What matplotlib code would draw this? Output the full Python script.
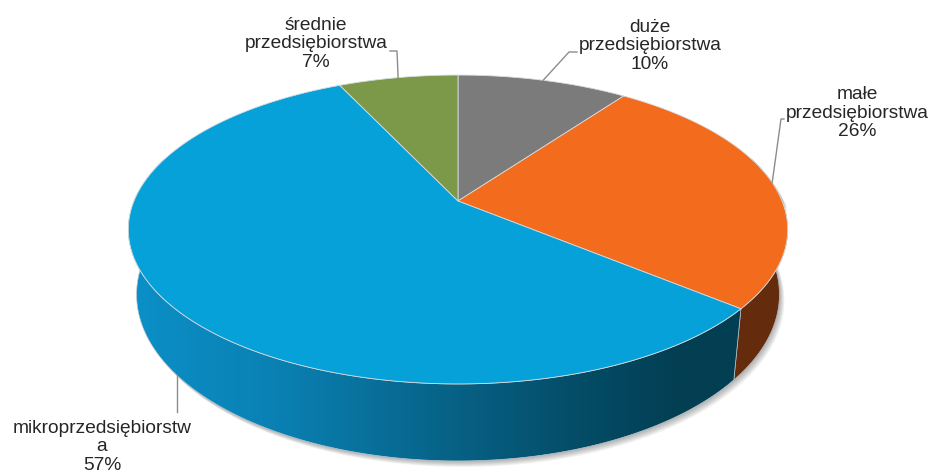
import numpy as np
import matplotlib
matplotlib.use("Agg")
import matplotlib.pyplot as plt
from matplotlib.patches import Polygon
from matplotlib.colors import LinearSegmentedColormap

plt.rcParams['font.family'] = ['Liberation Sans', 'DejaVu Sans']

# data (clockwise from 12 o'clock)
categories = ["duże\nprzedsiębiorstwa", "małe\nprzedsiębiorstwa",
              "mikroprzedsiębiorstw\na", "średnie\nprzedsiębiorstwa"]
shares = [10, 26, 57, 7]
top_colors = ["#7b7b7b", "#f36b1c", "#06a1d9", "#7c9849"]
side_colors = ["#4a4a4a", "#642b0c", None, "#4b5c2c"]

W, H = 932, 477
fig = plt.figure(figsize=(W / 100, H / 100), dpi=100)
ax = fig.add_axes([0, 0, 1, 1])

# perspective pie geometry (pixels)
cx, cy = 458, 202
A, B, k = 324, 149.2, 0.1845
depth = 62.8
shrink = 0.975


def top(phi):
    u, v = np.sin(phi), -np.cos(phi)
    w = 1 - k * v
    return cx + A * u / w, cy + B * v / w


def bottom(phi):
    u, v = np.sin(phi), -np.cos(phi)
    w = 1 - k * v
    return cx + shrink * A * u / w, cy + (B * v + depth) / w


fracs = np.array(shares, dtype=float) / sum(shares)
edges = np.concatenate([[0], np.cumsum(fracs)]) * 2 * np.pi

# soft shadow under the pie
t_back = np.linspace(-np.pi / 2, np.pi / 2, 200)
t_front = np.linspace(np.pi / 2, 3 * np.pi / 2, 200)
sx = np.concatenate([top(t_back)[0], bottom(t_front)[0]])
sy = np.concatenate([top(t_back)[1], bottom(t_front)[1]])
for i in range(6):
    d = 1 + i * 0.8
    ax.add_patch(Polygon(np.column_stack([sx + d, sy + d * 1.2]), closed=True,
                         facecolor="#000000", edgecolor="none", alpha=0.05, zorder=1))

# sides
lo, hi = np.pi / 2 - 0.3, 3 * np.pi / 2 + 0.3
for i, (a0, a1) in enumerate(zip(edges[:-1], edges[1:])):
    b0, b1 = max(a0, lo), min(a1, hi)
    if b1 <= b0:
        continue
    t = np.linspace(b0, b1, 150)
    tx, ty = top(t)
    bx, by = bottom(t[::-1])
    pts = np.column_stack([np.concatenate([tx, bx]), np.concatenate([ty, by])])
    if side_colors[i] is None:
        poly = Polygon(pts, closed=True, facecolor="none", edgecolor="#b8c8d0",
                       lw=0.5, zorder=3)
        ax.add_patch(poly)
        cmap = LinearSegmentedColormap.from_list(
            "side", [(0.0, "#0b90c8"), (0.25, "#0a80b2"), (0.5, "#07658a"),
                     (0.75, "#044b65"), (0.9, "#033f53"), (1.0, "#033f53")])
        grad = np.linspace(0, 1, 512).reshape(1, -1)
        im = ax.imshow(grad, cmap=cmap, extent=(pts[:, 0].min(), pts[:, 0].max(),
                                                 pts[:, 1].max(), pts[:, 1].min()),
                       aspect="auto", zorder=2, interpolation="bilinear")
        im.set_clip_path(poly)
    else:
        ax.add_patch(Polygon(pts, closed=True, facecolor=side_colors[i],
                             edgecolor="#b8b8b8", lw=0.5, zorder=2))

# top face
for i, (a0, a1) in enumerate(zip(edges[:-1], edges[1:])):
    t = np.linspace(a0, a1, 200)
    tx, ty = top(t)
    pts = np.column_stack([np.concatenate([[cx], tx]), np.concatenate([[cy], ty])])
    ax.add_patch(Polygon(pts, closed=True, facecolor=top_colors[i],
                         edgecolor="#d8dde0", lw=0.6, zorder=4))

# labels with leader lines
mids = (edges[:-1] + edges[1:]) / 2
label_pos = [(650, 46), (857, 113), (102, 447), (316, 44)]
elbows = [[(577, 53), (569, 53)], [(784, 120), (781, 120)], [None], [(390, 52), (397, 52)]]
for i, cat in enumerate(categories):
    ax.text(label_pos[i][0], label_pos[i][1], f"{cat}\n{shares[i]}%",
            ha="center", va="center", fontsize=13.8, color="#262626",
            linespacing=1.12, zorder=6)
    if i == 2:
        ex, ey = bottom(mids[i])
        ax.plot([ex, ex], [413, ey], color="#8c8c8c", lw=1, zorder=6)
    else:
        ex, ey = top(mids[i])
        xs = [p[0] for p in elbows[i]] + [ex]
        ys = [p[1] for p in elbows[i]] + [ey]
        ax.plot(xs, ys, color="#8c8c8c", lw=1, zorder=6)

ax.set_xlim(0, W)
ax.set_ylim(H, 0)
ax.axis("off")
fig.savefig("out.png", dpi=100)
